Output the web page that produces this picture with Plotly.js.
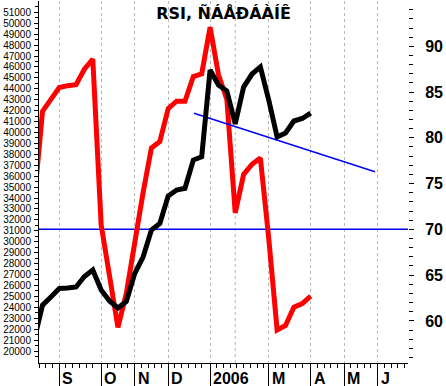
<!DOCTYPE html>
<html>
<head>
<meta charset="utf-8">
<script src="https://cdn.plot.ly/plotly-3.0.1.min.js"></script>
<style>html,body{margin:0;padding:0;background:#fff;}#chart{width:446px;height:386px;}</style>
</head>
<body>
<div id="chart"></div>
<script>
// weekly bar index (0 = first visible week)
const weekIdx = [-1,0,1,2,3,4,5,6,7,8,9,10,11,12,13,14,15,16,17,18,19,20,21,22,23,24,25,26,27,28,29,30,31,32];
// price (left axis)
const price = [21000,24200,24950,25720,25770,25860,26820,27410,25580,24580,23940,24530,27090,28600,31070,31670,34190,34730,34890,37480,37780,45720,44340,43800,40780,44160,45350,46000,42970,39590,39950,41050,41280,41780];
// RSI (right axis)
const rsi = [73.0,82.9,84.2,85.5,85.7,85.8,87.5,88.6,70.5,64.9,59.3,63.0,68.9,74.0,78.9,79.6,83.2,84.0,84.0,86.7,87.0,92.1,86.9,84.2,71.8,76.0,77.1,77.8,69.0,59.0,59.5,61.5,61.9,62.7];
// trend line on price
const trendIdx = [18.08, 39.68];
const trendVal = [41755, 36400];
// RSI level
const rsiLevel = 70;
// month boundaries (week index) and labels
const monthIdx = [2,7,11,15,20,27,32,36,40];
const monthLabels = ['S','O','N','D','2006','M','A','M','J'];
const febIdx = 23;
const allBounds = [2,7,11,15,20,23,27,32,36,40,44];
// left axis tick labels
const priceTicks = [];
for (let v = 20000; v <= 51000; v += 1000) priceTicks.push(v);
const priceTickText = priceTicks.map(String);

const minorX = [];
for (let k = 1; k <= 3; k++) minorX.push(2 - 0.8 * k);
for (let b = 0; b < allBounds.length - 1; b++) {
  if (allBounds[b] === febIdx) continue;
  let nb = allBounds[b + 1] === febIdx ? allBounds[b + 2] : allBounds[b + 1];
  for (let t = allBounds[b] + 0.8; t < nb - 0.3; t += 0.8) minorX.push(t);
}
const minorPrice = [];
for (let v = 19500; v <= 51500; v += 1000) minorPrice.push(v);

const traces = [
  {x: [-3, 50], y: [rsiLevel, rsiLevel], yaxis: 'y', mode: 'lines', line: {color: '#0000ff', width: 1.5}, hoverinfo: 'skip'},
  {x: weekIdx, y: rsi, yaxis: 'y', mode: 'lines', line: {color: '#ff0000', width: 5}},
  {x: trendIdx, y: trendVal, yaxis: 'y2', mode: 'lines', line: {color: '#0000ff', width: 1.5}},
  {x: weekIdx, y: price, yaxis: 'y2', mode: 'lines', line: {color: '#000000', width: 5}}
];

const annotations = monthLabels.map((t, i) => ({
  x: monthIdx[i], xref: 'x', y: -0.0416, yref: 'paper',
  text: t, showarrow: false, xanchor: 'left', yanchor: 'middle', xshift: 1,
  font: {family: 'Liberation Sans, Arial, sans-serif', size: 16, color: '#000', weight: 'bold'}
}));

const layout = {
  width: 446, height: 386,
  margin: {l: 39, r: 38, t: 1, b: 23, pad: 0},
  paper_bgcolor: '#ffffff', plot_bgcolor: '#ffffff',
  showlegend: false,
  title: {text: 'RSI, ÑÁÅÐÁÀÍÊ', x: 0.5, xref: 'paper', xanchor: 'center', y: 0.9663, yref: 'container', yanchor: 'middle',
          font: {family: 'DejaVu Sans, sans-serif', size: 16, color: '#000', weight: 'bold'}},
  xaxis: {
    range: [-0.42, 43.62], tickmode: 'array', tickvals: monthIdx, ticktext: monthIdx.map(() => ''),
    ticks: 'outside', ticklen: 22, tickwidth: 1, tickcolor: '#000',
    showline: true, linecolor: '#000', linewidth: 1,
    showgrid: true, gridcolor: '#b8b8b8', griddash: '3px,3px', gridwidth: 1,
    zeroline: false, fixedrange: true,
    minor: {tickvals: minorX, ticks: 'outside', ticklen: 4, tickwidth: 1, tickcolor: '#000', showgrid: false}
  },
  yaxis: {
    range: [55.4, 94.95], side: 'right', tickmode: 'linear', tick0: 0, dtick: 5,
    ticks: 'outside', ticklen: 5, tickwidth: 1, tickcolor: '#000',
    showline: false, showgrid: false, zeroline: false, fixedrange: true,
    ticklabelstandoff: 8,
    tickfont: {family: 'Liberation Sans, Arial, sans-serif', size: 16, color: '#000', weight: 'bold'},
    minor: {tickmode: 'linear', tick0: 0, dtick: 1, ticks: 'outside', ticklen: 4, tickwidth: 1, tickcolor: '#000', showgrid: false}
  },
  yaxis2: {
    range: [18902, 52034], side: 'left', overlaying: 'y',
    tickmode: 'array', tickvals: priceTicks, ticktext: priceTickText,
    ticks: 'outside', ticklen: 4, tickwidth: 1, tickcolor: '#000',
    showline: true, linecolor: '#000', linewidth: 1,
    showgrid: false, zeroline: false, fixedrange: true,
    ticklabelstandoff: 1,
    tickfont: {family: 'Liberation Sans, Arial, sans-serif', size: 10, color: '#000'},
    minor: {tickvals: minorPrice, ticks: 'outside', ticklen: 3, tickwidth: 1, tickcolor: '#000', showgrid: false}
  },
  shapes: [
    {type: 'line', xref: 'x', yref: 'paper', x0: febIdx, x1: febIdx, y0: 0, y1: 1, layer: 'below',
     line: {color: '#b8b8b8', width: 1, dash: '3px,3px'}}
  ],
  annotations: annotations
};

Plotly.newPlot('chart', traces, layout, {displayModeBar: false, staticPlot: true});
</script>
</body>
</html>
